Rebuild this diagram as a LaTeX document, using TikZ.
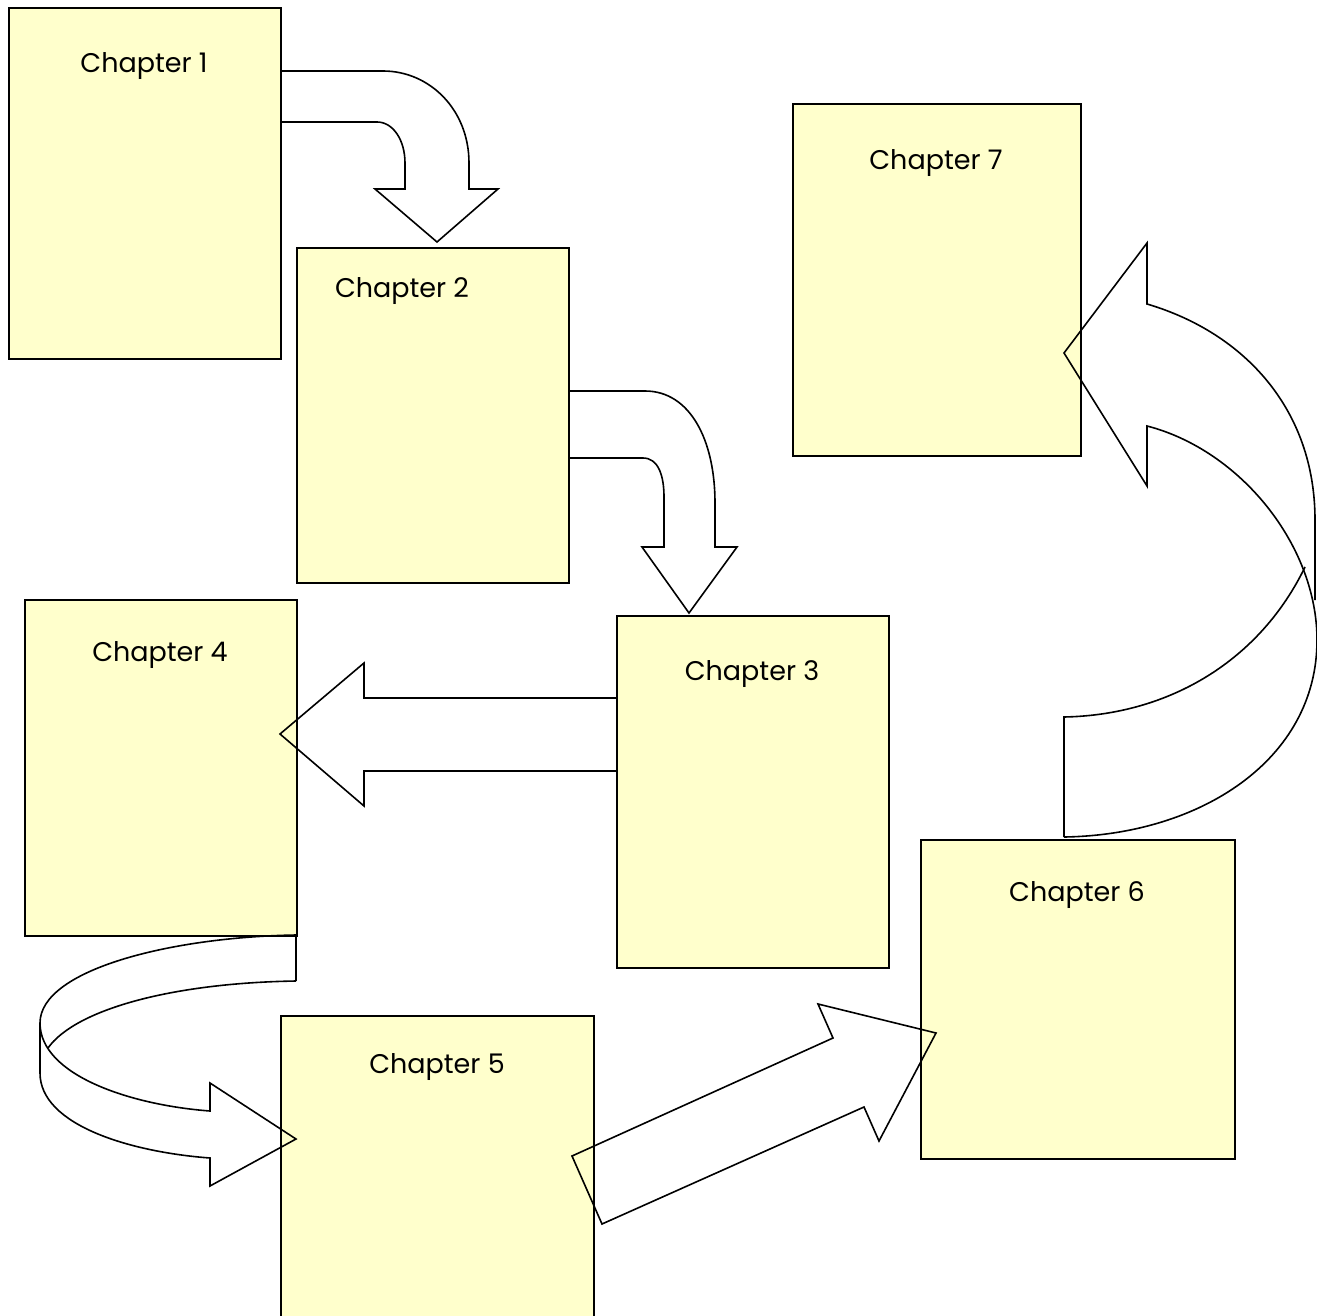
\documentclass[tikz,border=0pt]{standalone}
\usepackage{fontspec}
\setmainfont{Poppins}
\usepackage{tikz}
\usetikzlibrary{positioning,calc}
\definecolor{notepad}{HTML}{FFFFCC}
\tikzset{
  chapbox/.style={draw,line width=2pt,fill=notepad,anchor=north west,inner sep=0pt},
  chaptitle/.style={font=\fontsize{27}{31}\selectfont,inner sep=0pt},
  blockarrow/.style={draw,line width=1.6pt,line join=miter},
}

\begin{document}
\begin{tikzpicture}[x=1pt,y=-1pt]
      \useasboundingbox (0,0) rectangle (1317,1316);
      % chapter sheets
      \node[chapbox,minimum width=272pt,minimum height=351pt] (ch1) at (8,7) {};
      \node[chapbox,minimum width=272pt,minimum height=335pt] (ch2) at (296,247) {};
      \node[chapbox,minimum width=272pt,minimum height=352pt] (ch3) at (616,615) {};
      \node[chapbox,minimum width=272pt,minimum height=336pt] (ch4) at (24,599) {};
      \node[chapbox,minimum width=313pt,minimum height=320pt] (ch5) at (280,1015) {};
      \node[chapbox,minimum width=314pt,minimum height=319pt] (ch6) at (920,839) {};
      \node[chapbox,minimum width=288pt,minimum height=352pt] (ch7) at (792,103) {};

      \node[chaptitle] (t1) at (144,66) {Chapter 1};
      \node[chaptitle] (t2) at (402,291) {Chapter 2};
      \node[chaptitle] (t3) at (752,674) {Chapter 3};
      \node[chaptitle] (t4) at (160,655) {Chapter 4};
      \node[chaptitle] (t5) at (437,1067) {Chapter 5};
      \node[chaptitle] (t6) at (1077,895) {Chapter 6};
      \node[chaptitle] (t7) at (936,163) {Chapter 7};

      % bent arrows
      \draw[blockarrow] (280,71) -- (383,71) .. controls (430,71) and (469,110) .. (469,163)
        -- (469,189) -- (498,189) -- (437,242) -- (375,189) -- (405,189) -- (405,163)
        .. controls (405,140) and (393,122) .. (377,122) -- (280,122);
      \draw[blockarrow] (568,391) -- (645,391) .. controls (690,391) and (715,440) .. (715,503)
        -- (715,547) -- (737,547) -- (689,613) -- (642,547) -- (664,547) -- (664,497)
        .. controls (664,475) and (658,458) .. (643,458) -- (568,458);
      \draw[blockarrow] (616,698) -- (364,698) -- (364,663) -- (280,734) -- (364,806)
        -- (364,771) -- (616,771);

      % u-turn arrow
      \draw[blockarrow] (296,935) -- (296,981);
      \draw[blockarrow] (296,935) .. controls (170,937) and (40,970) .. (40,1023) -- (40,1073)
        .. controls (40,1125) and (130,1152) .. (210,1158) -- (210,1186) -- (296,1139)
        -- (210,1083) -- (210,1111) .. controls (130,1105) and (40,1075) .. (40,1023);
      \draw[blockarrow] (296,981) .. controls (170,983) and (75,1010) .. (48,1048);

      % straight arrow
      \draw[blockarrow] (572,1156) -- (833,1038) -- (818,1004) -- (936,1033) -- (879,1141)
        -- (864,1107) -- (602,1224) -- cycle;

      % curved arrow up
      \draw[blockarrow] (1064,837) .. controls (1200,835) and (1317,760) .. (1317,640)
        .. controls (1317,545) and (1240,450) .. (1147,426) -- (1147,486) -- (1064,353)
        -- (1147,243) -- (1147,304) .. controls (1245,333) and (1315,410) .. (1315,520)
        -- (1315,600);
      \draw[blockarrow] (1064,837) -- (1064,717) .. controls (1170,715) and (1260,660) .. (1305,567);
\end{tikzpicture}
\end{document}
